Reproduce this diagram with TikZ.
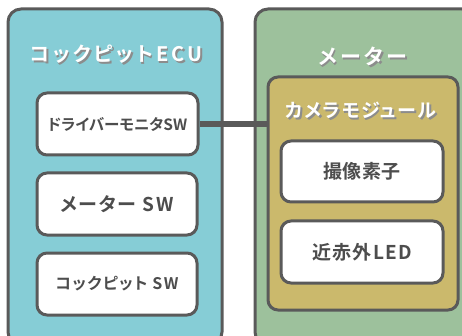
\documentclass[tikz,border=0pt]{standalone}
\usepackage{fontspec}
\setmainfont{Noto Sans CJK JP}[RawFeature=+palt, BoldFont={* Bold}]
\definecolor{ecublue}{HTML}{86CDD6}
\definecolor{metgreen}{HTML}{9DC19C}
\definecolor{camgold}{HTML}{CBB96C}
\definecolor{edge}{HTML}{5A5A5A}
\definecolor{txt}{HTML}{4D4D4D}
\newcommand{\shtxt}[1]{\makebox[0pt][l]{\hspace{1.5pt}\raisebox{-2pt}{\color{black!45}#1}}#1}
\newcommand{\fz}[2]{\fontsize{#1}{#1}\selectfont\addfontfeatures{LetterSpace=#2}}
\begin{document}
\begin{tikzpicture}[x=1pt,y=-1pt,
  panel/.style={draw=edge, line width=3pt, rounded corners=13pt, inner sep=0pt, outer sep=0pt, rectangle},
  swbox/.style={draw=edge, line width=3pt, fill=white, rounded corners=10pt, rectangle,
    inner sep=0pt, text=txt, font=\bfseries},
  ttl/.style={text=white, font=\bfseries, inner sep=0pt}
]
\useasboundingbox (0,0) rectangle (462,336);
\clip (0,0) rectangle (462,336);
% outer panels
\node[panel, fill=ecublue, minimum width=214pt, minimum height=336pt] (ecu) at (115,177) {};
\node[panel, fill=metgreen, minimum width=220pt, minimum height=336pt] (meter) at (365,177) {};
\node[panel, fill=camgold, minimum width=190pt, minimum height=233pt, rounded corners=10pt] (cam) at (363,193.5) {};
% titles
\node[ttl] (ecut) at (116.5,55) {\fz{20}{16}\shtxt{コックピットECU}};
\node[ttl] (metert) at (363,57) {\fz{21}{16}\shtxt{メーター}};
\node[ttl] (camt) at (361,111) {\fz{19}{8}\shtxt{カメラモジュール}};
% switches
\node[swbox, minimum width=161pt, minimum height=62pt] (drv) at (117.5,124) {\fz{15.5}{0}ドライバーモニタSW};
\node[swbox, minimum width=160pt, minimum height=62pt] (msw) at (117,204) {\fz{19}{9}メーター SW};
\node[swbox, minimum width=160pt, minimum height=62pt] (csw) at (117,284) {\fz{16}{8}コックピット SW};
% camera parts
\node[swbox, minimum width=162pt, minimum height=61pt] (img) at (362,171.5) {\fz{19}{1}撮像素子};
\node[swbox, minimum width=162pt, minimum height=62pt] (led) at (362,252) {\fz{19}{7}近赤外LED};
% connector
\draw[edge, line width=6pt] (drv.east) -- (cam.west |- drv.east);
\end{tikzpicture}
\end{document}
